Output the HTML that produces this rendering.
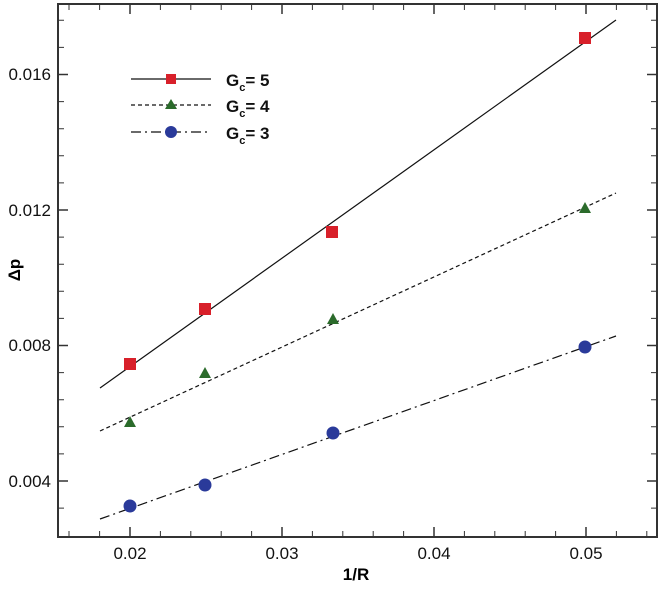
<!DOCTYPE html><html><head><style>body{margin:0;background:#fff}</style></head><body>
<svg width="660" height="588" xmlns="http://www.w3.org/2000/svg" font-family="Liberation Sans, sans-serif">
<rect x="58" y="4" width="599" height="533" fill="none" stroke="#333" stroke-width="2"/>
<g stroke="#333" stroke-width="1.5">
<line x1="130" y1="537" x2="130" y2="527"/><line x1="282" y1="537" x2="282" y2="527"/><line x1="434" y1="537" x2="434" y2="527"/><line x1="586" y1="537" x2="586" y2="527"/>
<line x1="130" y1="4" x2="130" y2="14"/><line x1="282" y1="4" x2="282" y2="14"/><line x1="434" y1="4" x2="434" y2="14"/><line x1="586" y1="4" x2="586" y2="14"/>
<line x1="58" y1="481" x2="68" y2="481"/><line x1="58" y1="345.5" x2="68" y2="345.5"/><line x1="58" y1="210" x2="68" y2="210"/><line x1="58" y1="74.5" x2="68" y2="74.5"/>
<line x1="657" y1="481" x2="647" y2="481"/><line x1="657" y1="345.5" x2="647" y2="345.5"/><line x1="657" y1="210" x2="647" y2="210"/><line x1="657" y1="74.5" x2="647" y2="74.5"/>
</g>
<g stroke="#333" stroke-width="1">
<path d="M69 537v-6M99.6 537v-6M160.4 537v-6M190.8 537v-6M221.2 537v-6M251.6 537v-6M312.4 537v-6M342.8 537v-6M373.2 537v-6M403.6 537v-6M464.4 537v-6M494.8 537v-6M525.2 537v-6M555.6 537v-6M616.4 537v-6M646.8 537v-6"/>
<path d="M69 4v6M99.6 4v6M160.4 4v6M190.8 4v6M221.2 4v6M251.6 4v6M312.4 4v6M342.8 4v6M373.2 4v6M403.6 4v6M464.4 4v6M494.8 4v6M525.2 4v6M555.6 4v6M616.4 4v6M646.8 4v6"/>
<path d="M58 508.1h6M58 453.9h6M58 426.8h6M58 399.7h6M58 372.6h6M58 318.4h6M58 291.3h6M58 264.2h6M58 237.1h6M58 182.9h6M58 155.8h6M58 128.7h6M58 101.6h6M58 47.4h6M58 20.3h6"/>
<path d="M657 508.1h-6M657 453.9h-6M657 426.8h-6M657 399.7h-6M657 372.6h-6M657 318.4h-6M657 291.3h-6M657 264.2h-6M657 237.1h-6M657 182.9h-6M657 155.8h-6M657 128.7h-6M657 101.6h-6M657 47.4h-6M657 20.3h-6"/>
</g>
<g font-size="17" fill="#111" text-anchor="middle">
<text x="130" y="559">0.02</text><text x="282" y="559">0.03</text><text x="434" y="559">0.04</text><text x="586" y="559">0.05</text>
</g>
<g font-size="17" fill="#111" text-anchor="end">
<text x="51" y="487">0.004</text><text x="51" y="351">0.008</text><text x="51" y="216">0.012</text><text x="51" y="80">0.016</text>
</g>
<text x="356" y="580" font-size="17" font-weight="bold" text-anchor="middle">1/R</text>
<text transform="translate(20,270) rotate(-90)" font-size="17" font-weight="bold" text-anchor="middle">Δp</text>
<line x1="100" y1="388" x2="616" y2="20" stroke="#111" stroke-width="1.2"/>
<line x1="100" y1="431" x2="616" y2="193" stroke="#111" stroke-width="1.2" stroke-dasharray="4,3"/>
<line x1="100" y1="519" x2="616" y2="336" stroke="#111" stroke-width="1.2" stroke-dasharray="10,4,2,4"/>
<g fill="#d8202a"><rect x="124" y="358" width="12" height="12"/><rect x="199" y="303" width="12" height="12"/><rect x="326" y="226" width="12" height="12"/><rect x="579" y="32" width="12" height="12"/></g>
<g fill="#2b6b2b"><path d="M130 416l6 11h-12z"/><path d="M205 367l6 11h-12z"/><path d="M333 313l6 11h-12z"/><path d="M585 202l6 11h-12z"/></g>
<g fill="#2a3a9a"><circle cx="130" cy="506" r="6.5"/><circle cx="205" cy="485" r="6.5"/><circle cx="333" cy="433" r="6.5"/><circle cx="585" cy="347" r="6.5"/></g>
<line x1="131" y1="79" x2="211" y2="79" stroke="#111" stroke-width="1.2"/><rect x="166" y="74" width="10" height="10" fill="#d8202a"/>
<line x1="131" y1="105" x2="211" y2="105" stroke="#111" stroke-width="1.2" stroke-dasharray="4,3"/><path d="M171 99l6 10h-12z" fill="#2b6b2b"/>
<line x1="131" y1="132" x2="211" y2="132" stroke="#111" stroke-width="1.2" stroke-dasharray="10,4,2,4"/><circle cx="171" cy="132" r="6" fill="#2a3a9a"/>
<g font-size="17" font-weight="bold" fill="#111">
<text x="226" y="86">G<tspan font-size="11" dy="5">c</tspan><tspan dy="-5">= 5</tspan></text>
<text x="226" y="112">G<tspan font-size="11" dy="5">c</tspan><tspan dy="-5">= 4</tspan></text>
<text x="226" y="139">G<tspan font-size="11" dy="5">c</tspan><tspan dy="-5">= 3</tspan></text>
</g>
</svg></body></html>
